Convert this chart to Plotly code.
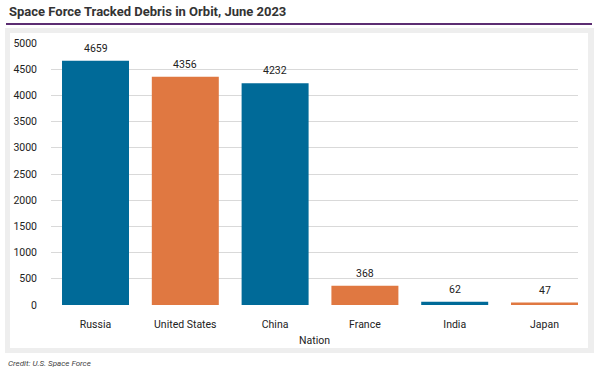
import plotly.graph_objects as go

nations = ["Russia", "United States", "China", "France", "India", "Japan"]
debris = [4659, 4356, 4232, 368, 62, 47]
bar_colors = ["#006a98", "#e07841", "#006a98", "#e07841", "#006a98", "#e07841"]
y_ticks = [0, 500, 1000, 1500, 2000, 2500, 3000, 3500, 4000, 4500, 5000]

W, H = 599, 373
L, R, T, B = 51, 578, 43, 305  # plot area in pixels

def px(x):
    return (x - L) / (R - L)

def py(y):
    return (B - y) / (B - T)

FONT = "Roboto, sans-serif"

fig = go.Figure(go.Bar(
    x=list(range(len(nations))), y=debris,
    marker=dict(color=bar_colors, line=dict(width=0)),
    width=0.746,
    hoverinfo="skip",
))

shapes = [
    dict(type="rect", xref="paper", yref="paper", x0=px(5), x1=px(594), y0=py(353), y1=py(28),
         fillcolor="#eeeeee", line=dict(width=0), layer="below"),
    dict(type="rect", xref="paper", yref="paper", x0=px(10), x1=px(588), y0=py(348), y1=py(33),
         fillcolor="#ffffff", line=dict(width=0), layer="below"),
    dict(type="line", xref="paper", yref="paper", x0=px(6), x1=px(592), y0=py(24), y1=py(24),
         line=dict(color="#5c2d72", width=2)),
]

annotations = [
    dict(text="Space Force Tracked Debris in Orbit, June 2023", xref="paper", yref="paper",
         x=px(7), y=py(12), xanchor="left", yanchor="middle", showarrow=False,
         font=dict(size=13, color="#333333", family=FONT, weight="bold")),
    dict(text="<i>Credit: U.S. Space Force</i>", xref="paper", yref="paper",
         x=px(6), y=py(363), xanchor="left", yanchor="middle", showarrow=False,
         font=dict(size=8, color="#444444", family=FONT)),
]
for i, v in enumerate(debris):
    annotations.append(dict(
        text=str(v), x=i, y=v, xref="x", yref="y", xanchor="center", yanchor="bottom",
        yshift=4, showarrow=False, font=dict(size=10.5, color="#222222", family=FONT)))

fig.update_layout(
    width=W, height=H,
    margin=dict(l=L, r=W - R, t=T, b=H - B, pad=0),
    paper_bgcolor="#ffffff", plot_bgcolor="rgba(0,0,0,0)",
    showlegend=False,
    shapes=shapes, annotations=annotations,
    xaxis=dict(
        range=[-0.4956, 5.373], tickmode="array",
        tickvals=list(range(len(nations))), ticktext=nations,
        showgrid=False, zeroline=False, showline=False, ticks="",
        ticklabelstandoff=11,
        tickfont=dict(size=10.5, color="#222222", family=FONT),
        title=dict(text="Nation", font=dict(size=10.5, color="#222222", family=FONT), standoff=7),
    ),
    yaxis=dict(
        range=[0, 5000], tickmode="array", tickvals=y_ticks,
        showgrid=True, gridcolor="#d9d9d9", gridwidth=1,
        zeroline=False, showline=False, ticks="",
        ticklabelstandoff=13,
        tickfont=dict(size=10.5, color="#222222", family=FONT),
    ),
)

fig.write_html("out.html", config={"displayModeBar": False},
               post_script="document.body.style.margin='0px';")
